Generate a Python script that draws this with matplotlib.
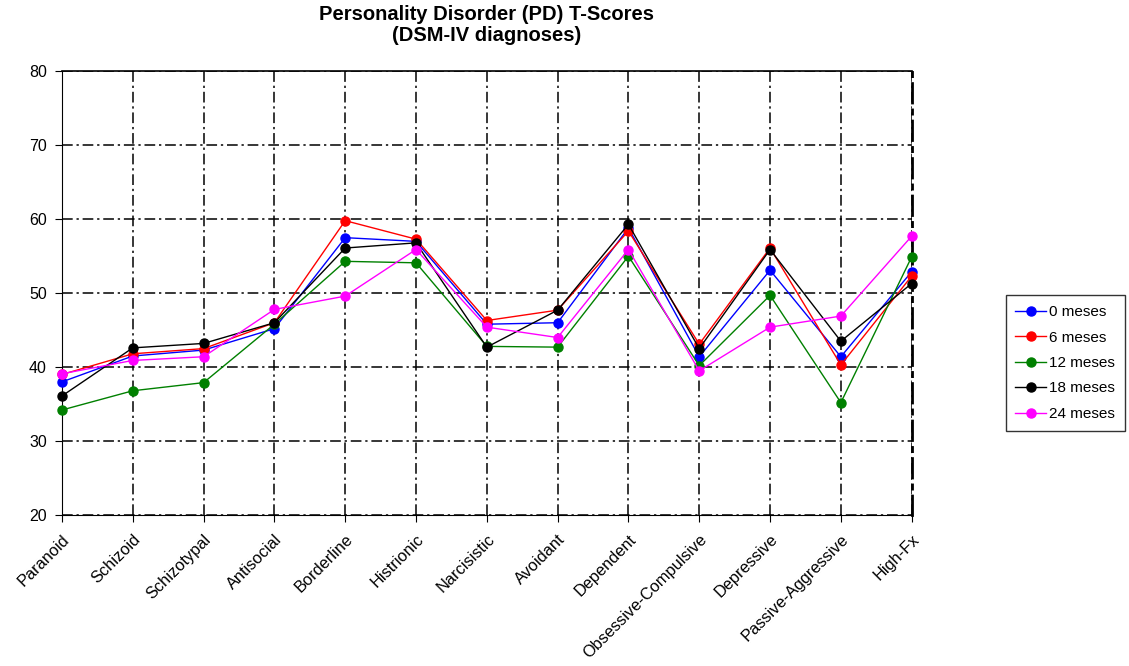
import matplotlib
matplotlib.use("Agg")
import matplotlib.pyplot as plt

plt.rcParams['font.family'] = ['Liberation Sans', 'DejaVu Sans']

categories = ['Paranoid', 'Schizoid', 'Schizotypal', 'Antisocial', 'Borderline',
              'Histrionic', 'Narcisistic', 'Avoidant', 'Dependent',
              'Obsessive-Compulsive', 'Depressive', 'Passive-Aggressive', 'High-Fx']

m0 = [38.0, 41.5, 42.3, 45.2, 57.5, 57.0, 45.8, 46.0, 58.8, 41.4, 53.1, 41.4, 52.9]
m6 = [39.0, 41.8, 42.5, 46.0, 59.8, 57.3, 46.3, 47.7, 58.4, 43.1, 56.1, 40.3, 52.3]
m12 = [34.2, 36.8, 37.9, 45.8, 54.3, 54.1, 42.8, 42.7, 55.0, 40.2, 49.7, 35.2, 54.9]
m18 = [36.1, 42.6, 43.2, 46.0, 56.1, 56.8, 42.7, 47.7, 59.3, 42.5, 55.9, 43.5, 51.3]
m24 = [39.1, 40.9, 41.4, 47.8, 49.6, 55.9, 45.4, 44.0, 55.9, 39.5, 45.4, 46.9, 57.7]

series = [('0 meses', m0, '#0000ff'),
          ('6 meses', m6, '#ff0000'),
          ('12 meses', m12, '#008000'),
          ('18 meses', m18, '#000000'),
          ('24 meses', m24, '#ff00ff')]

dashdot = (0, (7, 2.5, 1.5, 2.5))

fig = plt.figure(figsize=(11.29, 6.66), dpi=100)
ax = fig.add_axes([0.0549, 0.2267, 0.7526, 0.6663])

x = list(range(len(categories)))
for label, vals, color in series:
    ax.plot(x, vals, '-o', color=color, lw=1, markersize=6.5, label=label,
            clip_on=False, zorder=3)

ax.set_xlim(0, len(categories) - 1)
ax.set_ylim(20, 80)
ax.set_yticks(range(20, 81, 10))
ax.set_xticks(x)
ax.set_xticklabels(categories, rotation=45, ha='right', rotation_mode='anchor', fontsize=11.8)
ax.tick_params(axis='y', labelsize=11.5, direction='out', length=5, pad=6)
ax.tick_params(axis='x', direction='out', length=5, pad=7)

ax.grid(True, color='black', linestyle=dashdot, linewidth=1.1)
ax.set_axisbelow(True)
ax.spines['top'].set_linewidth(1.2)
ax.spines['right'].set_linewidth(2)
ax.spines['right'].set_linestyle(dashdot)

ax.set_title('Personality Disorder (PD) T-Scores\n(DSM-IV diagnoses)',
             fontsize=14.5, fontweight='bold', pad=22, linespacing=1.1)

leg = fig.legend(loc='center', bbox_to_anchor=(0.9435, 0.455), fontsize=11,
                 frameon=True, fancybox=False, edgecolor='black',
                 handlelength=2.0, handletextpad=0.2, labelspacing=0.75,
                 borderpad=0.65, borderaxespad=0)
leg.get_frame().set_linewidth(1)

fig.savefig('out.png', dpi=100)
